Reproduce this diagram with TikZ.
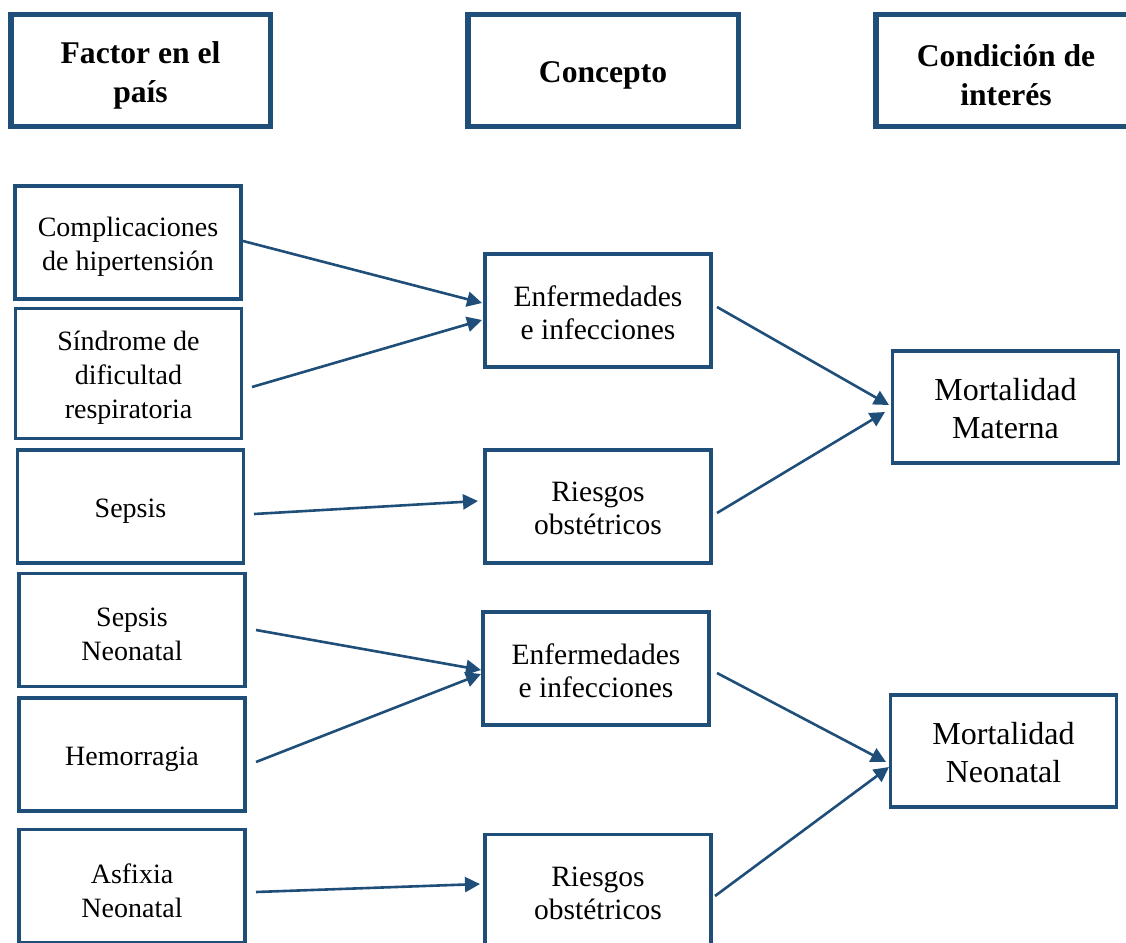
\documentclass[tikz,border=0pt]{standalone}
\usepackage{fontspec}
\setmainfont{Liberation Serif}
\usetikzlibrary{arrows.meta}
\definecolor{navy}{RGB}{31,78,121}
\begin{document}
\begin{tikzpicture}[x=1pt,y=-1pt,
  % frames
  frame/.style={draw=navy, outer sep=0pt, inner sep=0pt},
  header/.style={frame, line width=5.5pt, minimum height=111.5pt},
  factor/.style={frame, line width=3.5pt, minimum width=226pt, minimum height=113pt},
  concept/.style={factor},
  outcome/.style={factor, minimum height=112pt},
  % texts set in the frames
  htxt/.style={align=center, inner sep=0pt, yshift=-5pt,
    font=\fontsize{31.6}{39}\selectfont\bfseries},
  ftxt/.style={align=center, inner sep=0pt, yshift=-4.5pt,
    font=\fontsize{28}{34}\selectfont},
  ctxt/.style={align=center, inner sep=0pt, yshift=-2pt,
    font=\fontsize{29.5}{33}\selectfont},
  otxt/.style={align=center, inner sep=0pt, yshift=-2pt,
    font=\fontsize{32}{38}\selectfont},
  arr/.style={draw=navy, line width=2.6pt, -{Triangle[length=15pt,width=15pt]}}
]
\useasboundingbox (0,0) rectangle (1126,942);
\clip (0,0) rectangle (1126,942);

% column headers
\node[header, minimum width=259.5pt, label={[htxt]center:{Factor en el\\país}}] (h1) at (140.5,70.5) {};
\node[header, minimum width=270.5pt, label={[htxt]center:{Concepto}}] (h2) at (603,70.5) {};
\node[header, minimum width=260.5pt, label={[htxt]center:{Condición de\\interés}}] (h3) at (1006,70.5) {};

% factors
\node[factor, label={[ftxt]center:{Complicaciones\\de hipertensión}}] (A) at (128,242.5) {};
\node[factor, minimum height=130pt, label={[ftxt]center:{Síndrome de\\dificultad\\respiratoria}}] (B) at (128.5,373.5) {};
\node[factor, label={[ftxt]center:{Sepsis}}] (C) at (130.5,506.5) {};
\node[factor, label={[ftxt]center:{Sepsis\\Neonatal}}] (D) at (132,630) {};
\node[factor, label={[ftxt]center:{Hemorragia}}] (E) at (132,754.5) {};
\node[factor, label={[ftxt]center:{Asfixia\\Neonatal}}] (F) at (132,886) {};

% concepts
\node[concept, label={[ctxt]center:{Enfermedades\\e infecciones}}] (G) at (598,310.5) {};
\node[concept, label={[ctxt]center:{Riesgos\\obstétricos}}] (H) at (598,506.5) {};
\node[concept, label={[ctxt]center:{Enfermedades\\e infecciones}}] (I) at (596,668.5) {};
\node[concept, label={[ctxt]center:{Riesgos\\obstétricos}}] (J) at (598,891) {};

% conditions of interest
\node[outcome, label={[otxt]center:{Mortalidad\\Materna}}] (K) at (1005.5,407) {};
\node[outcome, label={[otxt]center:{Mortalidad\\Neonatal}}] (L) at (1003.5,751) {};

% factor -> concept
\draw[arr] ([shift={(2,-1.5)}]A.east) -- ([shift={(-3,-7.5)}]G.west);
\draw[arr] ([shift={(10.5,13.5)}]B.east) -- ([shift={(-3,9.5)}]G.west);
\draw[arr] ([shift={(10.5,7.5)}]C.east) -- ([shift={(-7,-5.5)}]H.west);
\draw[arr] ([shift={(11,0)}]D.east) -- ([shift={(-2,1.5)}]I.west);
\draw[arr] ([shift={(11,7.5)}]E.east) -- ([shift={(-2,5.5)}]I.west);
\draw[arr] ([shift={(11,6)}]F.east) -- ([shift={(-5,-7)}]J.west);

% concept -> condition
\draw[arr] ([shift={(6,-3.5)}]G.east) -- ([shift={(-3.5,-2)}]K.west);
\draw[arr] ([shift={(6,6.5)}]H.east) -- ([shift={(-7.5,5)}]K.west);
\draw[arr] ([shift={(8,4.5)}]I.east) -- ([shift={(-4.5,11)}]L.west);
\draw[arr] ([shift={(4,5)}]J.east) -- ([shift={(-1.5,16)}]L.west);
\end{tikzpicture}
\end{document}
